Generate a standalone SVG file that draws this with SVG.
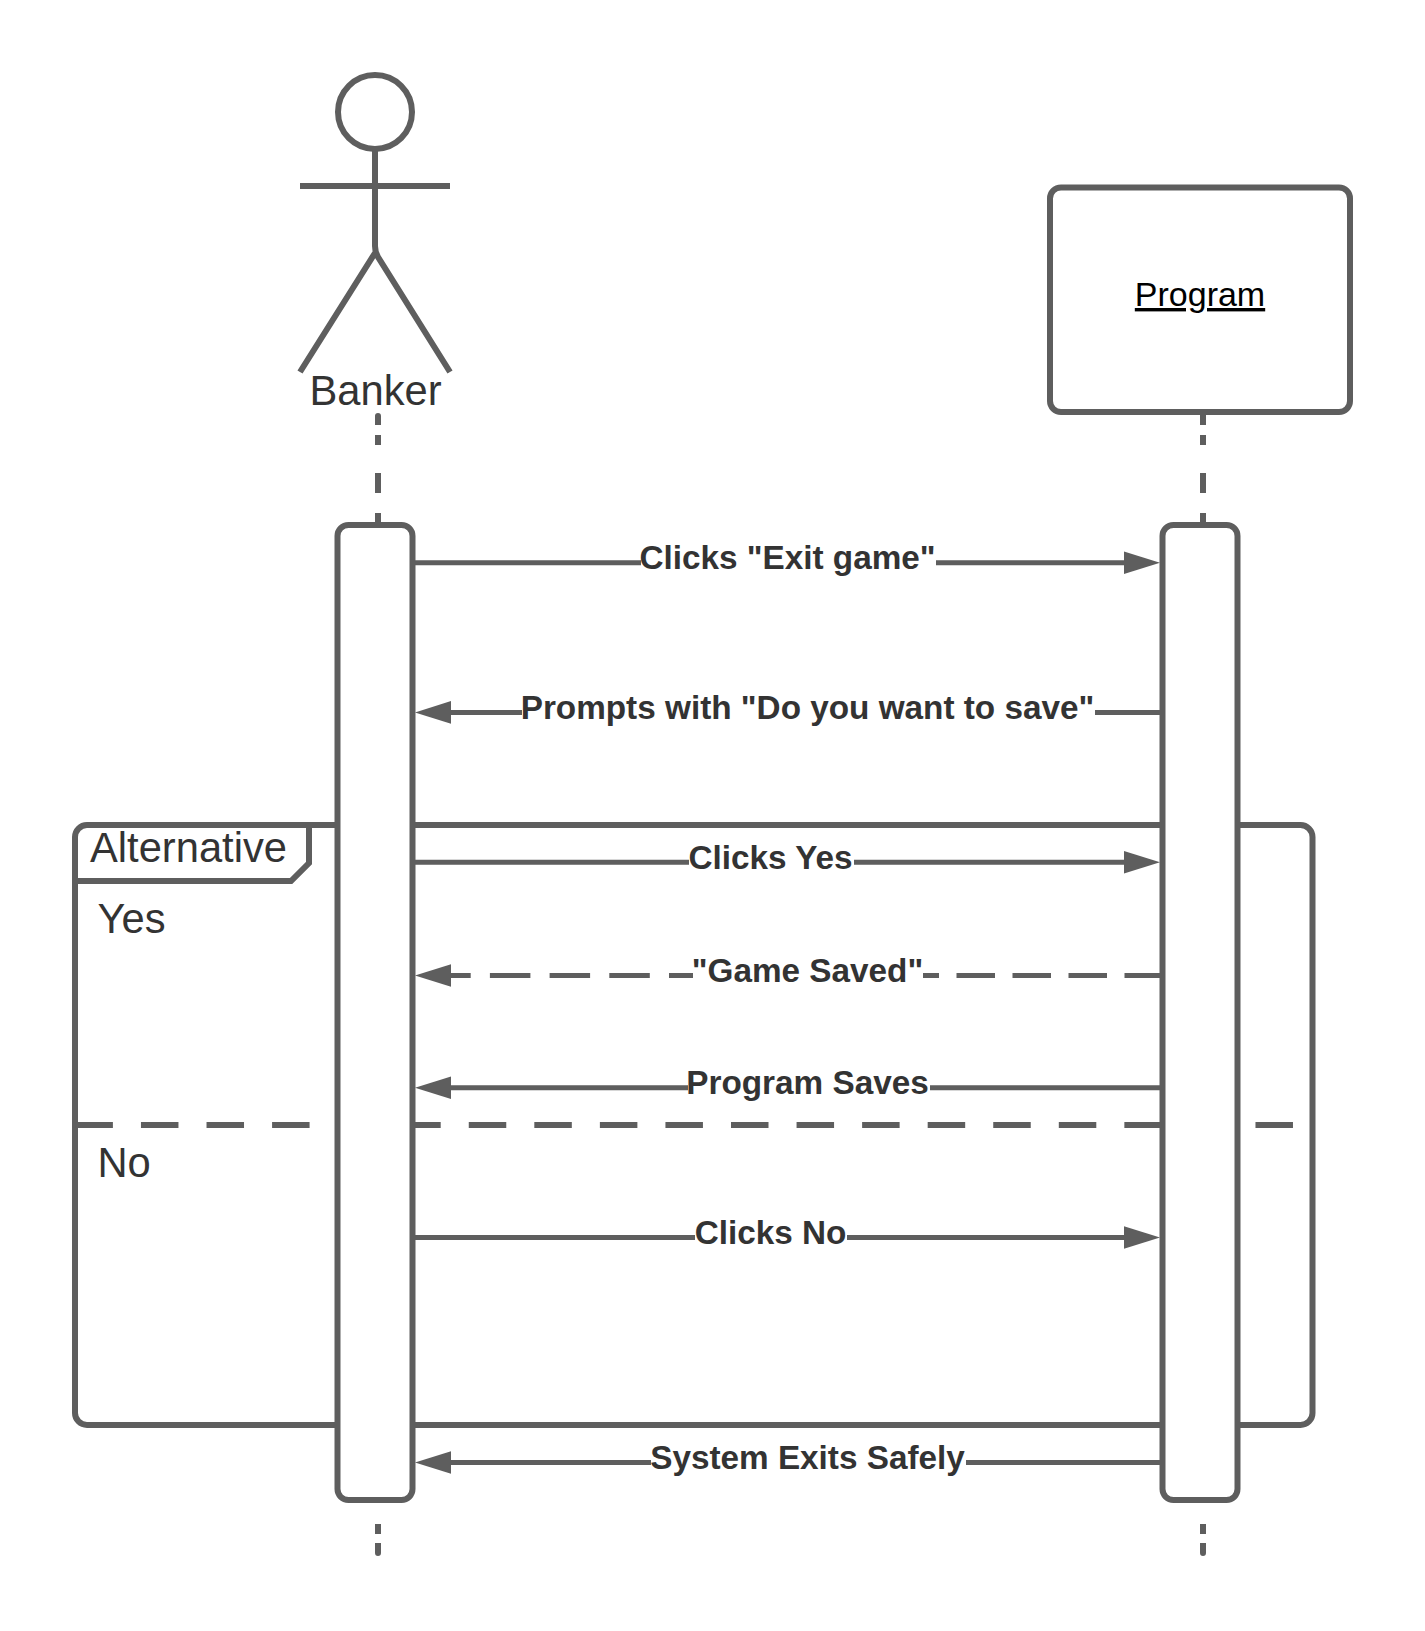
<svg xmlns="http://www.w3.org/2000/svg" width="1425" height="1631" viewBox="0 0 1425 1631">
<style>
.ln{fill:none;stroke:#5e5e5e;stroke-width:6}
.box{fill:#fff;stroke:#5e5e5e;stroke-width:6}
.msg{fill:none;stroke:#5e5e5e;stroke-width:5}
.lab{font-family:"Liberation Sans",Arial,sans-serif;font-weight:700;font-size:33.3px;fill:#333;text-anchor:middle}
.big{font-family:"Liberation Sans",Arial,sans-serif;font-size:41.7px;fill:#333}
</style>
<defs>
<marker id="ah" markerUnits="userSpaceOnUse" markerWidth="37" markerHeight="24" viewBox="0 0 37 24" refX="1" refY="12" orient="auto"><path d="M0 .7L36 12L0 23.3z" fill="#5e5e5e"/></marker>
</defs>
<rect width="1425" height="1631" fill="#fff"/>
<g id="frame">
<rect class="ln" x="75" y="825" width="1237.5" height="600" rx="12"/>
<path class="ln" d="M75 881H291L309 863V825"/>
<path class="ln" d="M75 1125H1294" stroke-dasharray="37.5 28.06" stroke-dashoffset="-.4"/>
<text class="big" x="90" y="862">Alternative</text>
<text class="big" x="97.500" y="932.500">Yes</text>
<text class="big" x="97.500" y="1176.500">No</text>
</g>
<g id="lifelines">
<path class="ln" d="M378 418V425M378 435V445M378 473V493M378 513V525M378 1524V1534M378 1543V1552"/>
<path class="ln" d="M1203 412V425M1203 435V445M1203 473V493M1203 513V525M1203 1524V1534M1203 1543V1552"/>
<path class="ln" stroke-linecap="round" d="M378 416V420M378 1552V1553M1203 1552V1553"/>
</g>
<g id="banker">
<circle class="ln" cx="375" cy="112" r="37"/>
<path class="ln" d="M375 149V246Q375 252 378 257L450 372M300 186H450M375 253L300 372"/>
<text class="big" x="375.500" y="405" text-anchor="middle">Banker</text>
</g>
<g id="program">
<rect class="box" x="1050" y="187.500" width="300" height="224.500" rx="11"/>
<text x="1200" y="306" text-anchor="middle" font-family="Liberation Sans,Arial,sans-serif" font-size="34" fill="#000" text-decoration="underline">Program</text>
</g>
<g id="bar-banker"><rect class="box" x="337.500" y="525" width="75" height="975" rx="11"/></g>
<g id="bar-program"><rect class="box" x="1162.500" y="525" width="75" height="975" rx="11"/></g>
<g id="connectors">
<path class="msg" marker-end="url(#ah)" d="M415 562.700H641M936 562.700H1125"/>
<path class="msg" marker-end="url(#ah)" d="M1160 712.400H1095M522 712.400H450"/>
<path class="msg" marker-end="url(#ah)" d="M415 862.200H689M854 862.200H1125"/>
<path class="msg" stroke-dasharray="38.5 17.5" stroke-dashoffset="22.500" d="M923 975.500H1160"/>
<path class="msg" marker-end="url(#ah)" stroke-dasharray="40.5 19.2" stroke-dashoffset="16.500" d="M693 975.500H450"/>
<path class="msg" marker-end="url(#ah)" d="M1160 1087.800H930M688 1087.800H450"/>
<path class="msg" marker-end="url(#ah)" d="M415 1237.500H695M847 1237.500H1125"/>
<path class="msg" marker-end="url(#ah)" d="M1160 1462.500H966M651 1462.500H450"/>
</g>
<g id="labels">
<text class="lab" x="787.500" y="569">Clicks "Exit game"</text>
<text class="lab" x="807.500" y="719">Prompts with "Do you want to save"</text>
<text class="lab" x="770.500" y="869">Clicks Yes</text>
<text class="lab" x="807.500" y="981.500">"Game Saved"</text>
<text class="lab" x="807.500" y="1094">Program Saves</text>
<text class="lab" x="770.500" y="1244">Clicks No</text>
<text class="lab" x="807.500" y="1469">System Exits Safely</text>
</g>
</svg>
